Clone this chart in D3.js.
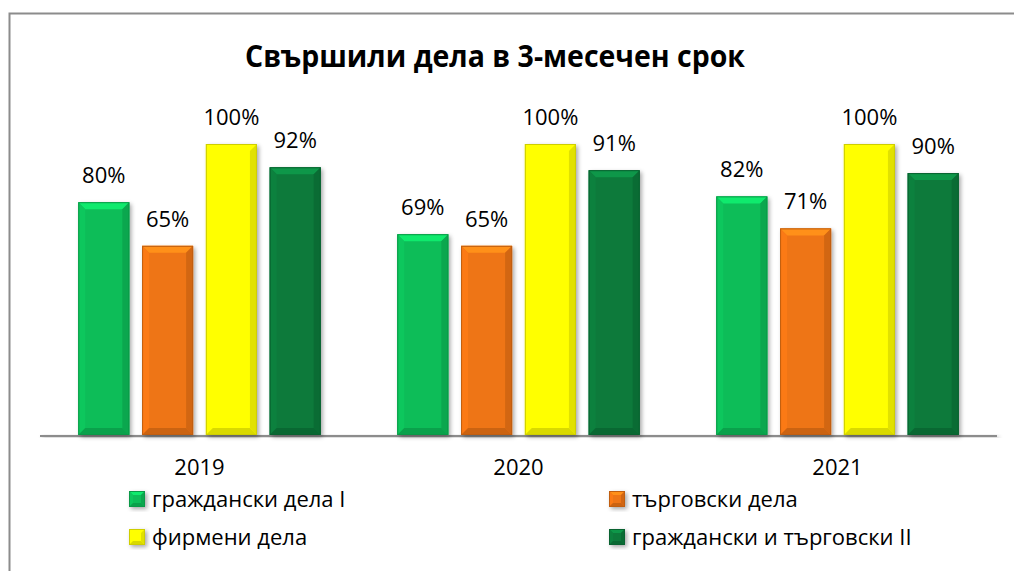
<!DOCTYPE html>
<html>
<head>
<meta charset="utf-8">
<script src="https://cdn.jsdelivr.net/npm/d3@7"></script>
<style>
  html, body { margin: 0; padding: 0; background: #fff; }
  svg { display: block; font-family: "Open Sans", "Noto Sans", sans-serif; }
</style>
</head>
<body>
<svg id="chart" width="1014" height="571"></svg>
<script>
const title = "Свършили дела в 3-месечен срок"
const years = ["2019", "2020", "2021"]
const series = ["граждански дела I", "търговски дела", "фирмени дела", "граждански и търговски II"]
const colors = ["#0cbd58", "#ee7414", "#ffff00", "#0b7a3b"]
const values = [
  [0.80, 0.65, 1.00, 0.92],
  [0.69, 0.65, 1.00, 0.91],
  [0.82, 0.71, 1.00, 0.90]
]

const svg = d3.select("#chart")
const W = 1014, H = 571
const plot = { left: 40, right: 997, top: 144, bottom: 435 }

// frame (runs off the right/bottom edge like the original)
svg.append("rect")
  .attr("x", 9.5).attr("y", 13.5)
  .attr("width", W + 10).attr("height", H + 10)
  .attr("fill", "#fff").attr("stroke", "#8c8c8c").attr("stroke-width", 2)

const defs = svg.append("defs")
const shadow = defs.append("filter").attr("id", "shadow")
  .attr("x", "-20%").attr("y", "-20%").attr("width", "150%").attr("height", "150%")
shadow.append("feDropShadow")
  .attr("dx", 2).attr("dy", 2).attr("stdDeviation", 2)
  .attr("flood-color", "#000").attr("flood-opacity", 0.35)

svg.append("text")
  .attr("x", 495).attr("y", 67)
  .attr("text-anchor", "middle")
  .attr("font-size", 31).attr("font-weight", "bold")
  .attr("textLength", 500).attr("lengthAdjust", "spacingAndGlyphs")
  .text(title)

const x0 = d3.scaleBand().domain(years).range([plot.left, plot.right])
const x1 = d3.scaleBand().domain(series).range([0, x0.bandwidth()])
  .paddingInner(0.2).paddingOuter(0.6)
const y = d3.scaleLinear().domain([0, 1]).range([plot.bottom, plot.top])

// axis line
svg.append("rect")
  .attr("x", plot.left).attr("width", plot.right - plot.left)
  .attr("y", plot.bottom).attr("height", 2)
  .attr("fill", "#8c8c8c")
  .attr("filter", "url(#shadow)")

function bevelBar(g, x, yTop, w, h, color, b) {
  const c = d3.color(color)
  const yb = yTop + h
  g.append("rect")
    .attr("x", x).attr("y", yTop).attr("width", w).attr("height", h)
    .attr("fill", color).attr("filter", "url(#shadow)")
  const facet = (pts, fill) => g.append("polygon")
    .attr("points", pts.map(p => p.join(",")).join(" "))
    .attr("fill", fill)
  facet([[x, yTop], [x + w, yTop], [x + w - b, yTop + b], [x + b, yTop + b]], c.brighter(0.6))
  facet([[x, yTop], [x + b, yTop + b], [x + b, yb - b], [x, yb]], c.brighter(0.15))
  facet([[x + w, yTop], [x + w - b, yTop + b], [x + w - b, yb - b], [x + w, yb]], c.darker(0.35))
  facet([[x, yb], [x + b, yb - b], [x + w - b, yb - b], [x + w, yb]], c.darker(0.45))
  g.append("rect")
    .attr("x", x + 0.5).attr("y", yTop + 0.5).attr("width", w - 1).attr("height", h - 1)
    .attr("fill", "none").attr("stroke", c.darker(0.6)).attr("stroke-width", 1)
}

const groups = svg.selectAll("g.year")
  .data(years)
  .join("g").attr("class", "year")
  .attr("transform", d => `translate(${x0(d)},0)`)

groups.each(function (yr, i) {
  const g = d3.select(this)
  series.forEach((s, j) => {
    const v = values[i][j]
    bevelBar(g, x1(s), y(v), x1.bandwidth(), y(0) - y(v), colors[j], 7)
    g.append("text")
      .attr("x", x1(s) + x1.bandwidth() / 2)
      .attr("y", y(v) - 19)
      .attr("text-anchor", "middle")
      .attr("font-size", 22).attr("fill", "#000")
      .text(d3.format(".0%")(v))
  })
  g.append("text")
    .attr("x", x0.bandwidth() / 2)
    .attr("y", 475)
    .attr("text-anchor", "middle")
    .attr("font-size", 22).attr("fill", "#000")
    .text(yr)
})

// legend
const legCols = [129, 609], legRows = [491, 529]
const legend = svg.selectAll("g.legend")
  .data(series)
  .join("g").attr("class", "legend")
  .attr("transform", (d, i) => `translate(${legCols[i % 2]},${legRows[Math.floor(i / 2)]})`)

legend.each(function (s, i) {
  const g = d3.select(this)
  bevelBar(g, 0, 0, 16, 16, colors[i], 4)
  g.append("text")
    .attr("x", 23).attr("y", 16)
    .attr("font-size", 22).attr("fill", "#000")
    .text(s)
})
</script>
</body>
</html>
